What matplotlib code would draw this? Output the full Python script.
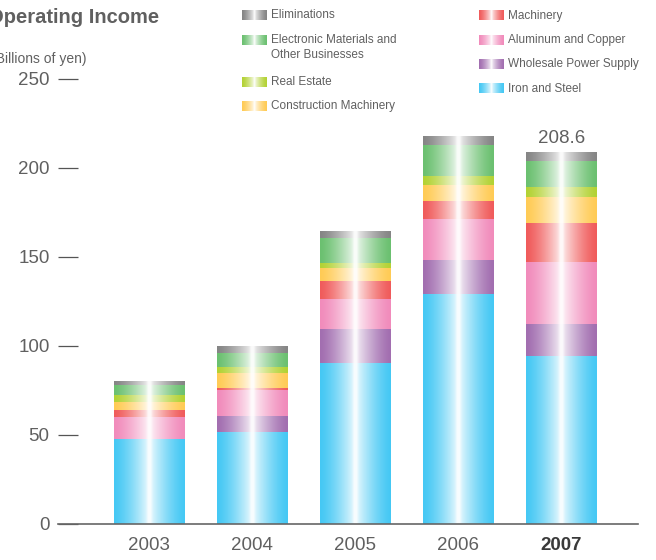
import numpy as np
import matplotlib
matplotlib.use('Agg')
import matplotlib.pyplot as plt
from matplotlib.colors import to_rgb

plt.rcParams['font.family'] = ['Liberation Sans', 'DejaVu Sans']

years = ['2003', '2004', '2005', '2006', '2007']

# operating income by segment, billions of yen (stacked bottom to top)
iron_steel     = [47.7, 51.8, 90.3, 129.1, 94.0]
power_supply   = [0.0, 8.8, 19.1, 19.1, 18.3]
aluminum       = [12.3, 14.6, 16.8, 23.0, 34.8]
machinery      = [3.9, 1.1, 10.1, 10.1, 21.6]
construction   = [4.5, 8.4, 7.3, 9.0, 14.8]
real_estate    = [3.9, 3.4, 2.8, 5.1, 5.7]
electronic     = [5.6, 7.9, 14.0, 17.4, 14.4]
eliminations   = [1.7, 3.4, 3.4, 4.5, 5.0]

segments = [
    ('Iron and Steel', iron_steel, '#45C8F4'),
    ('Wholesale Power Supply', power_supply, '#A26EB0'),
    ('Aluminum and Copper', aluminum, '#F18BBB'),
    ('Machinery', machinery, '#F05B5B'),
    ('Construction Machinery', construction, '#FFCB55'),
    ('Real Estate', real_estate, '#B3D234'),
    ('Electronic Materials and\nOther Businesses', electronic, '#6BC070'),
    ('Eliminations', eliminations, '#858585'),
]

TEXT = '#606060'


def shine(color, n=200):
    # horizontal gradient: saturated at the edges, white highlight in the middle
    t = np.linspace(-1, 1, n)
    w = 0.9 * (1 - np.abs(t)) ** 1.4 + 0.14 * np.exp(-(t / 0.07) ** 2)
    w = np.clip(w, 0, 0.96)
    c = np.array(to_rgb(color))
    rgb = c[None, :] * (1 - w[:, None]) + w[:, None]
    return rgb[None, :, :]


fig = plt.figure(figsize=(6.56, 5.6), dpi=100)
ax = fig.add_axes([58 / 656, 36 / 560, 580 / 656, 454.4 / 560])

x = np.arange(len(years))
bottom = np.zeros(len(years))
for name, vals, col in segments:
    bars = ax.bar(x, vals, width=0.68, bottom=bottom, color='none',
                  linewidth=0, zorder=2)
    for b in bars:
        if b.get_height() <= 0:
            continue
        x0, y0 = b.get_x(), b.get_y()
        ax.imshow(shine(col), extent=[x0, x0 + b.get_width(), y0, y0 + b.get_height()],
                  aspect='auto', interpolation='bilinear', zorder=2)
    bottom = bottom + np.array(vals)

# total on the latest year
ax.text(x[-1], bottom[-1] + 3, f'{bottom[-1]:.1f}', ha='center', va='bottom',
        fontsize=13.5, color=TEXT)

ax.set_xlim(-0.883, 4.743)
ax.set_ylim(0, 255)
ax.set_yticks([0, 50, 100, 150, 200, 250])
ax.set_xticks(x)
ax.set_xticklabels(years)
for s in ['left', 'right', 'top']:
    ax.spines[s].set_visible(False)
ax.spines['bottom'].set_color('#666666')
ax.spines['bottom'].set_linewidth(1.2)
ax.spines['bottom'].set_zorder(3)
ax.tick_params(axis='y', direction='in', length=14.5, width=0.9, color='#555555',
               pad=6, labelsize=13.5, labelcolor=TEXT)
ax.tick_params(axis='x', length=0, pad=9, labelsize=13.5, labelcolor=TEXT)
last = ax.get_xticklabels()[-1]
last.set_color('#3a3a3a')
last.set_fontweight('bold')

# headings
fig.text(-12 / 656, 1 - 17.5 / 560, 'Operating Income', fontsize=14.5, fontweight='bold',
         color=TEXT, va='center', ha='left')
fig.text(-9 / 656, 1 - 59 / 560, '(Billions of yen)', fontsize=10, color=TEXT,
         va='center', ha='left')

# legend with gradient swatches, drawn in pixel coordinates
lg = fig.add_axes([0, 0, 1, 1], zorder=5)
lg.axis('off')
lg.patch.set_alpha(0)

legend_rows = [
    ('Eliminations', 242, 15.5, 15.5),
    ('Electronic Materials and\nOther Businesses', 242, 40, 47.5),
    ('Real Estate', 242, 82, 82),
    ('Construction Machinery', 242, 106.5, 106.5),
    ('Machinery', 479, 15.5, 15.5),
    ('Aluminum and Copper', 479, 40.5, 40.5),
    ('Wholesale Power Supply', 479, 64.5, 64.5),
    ('Iron and Steel', 479, 88.5, 88.5),
]
colors = {name: col for name, _, col in segments}
for name, lx, sy, ty in legend_rows:
    lg.imshow(shine(colors[name], 60), extent=[lx, lx + 25, sy + 5, sy - 5],
              aspect='auto', interpolation='bilinear')
    lg.text(lx + 29, ty, name, fontsize=8.5, color=TEXT, va='center', ha='left',
            linespacing=1.25)
lg.set_xlim(0, 656)
lg.set_ylim(560, 0)

fig.savefig('out.png', dpi=100)
